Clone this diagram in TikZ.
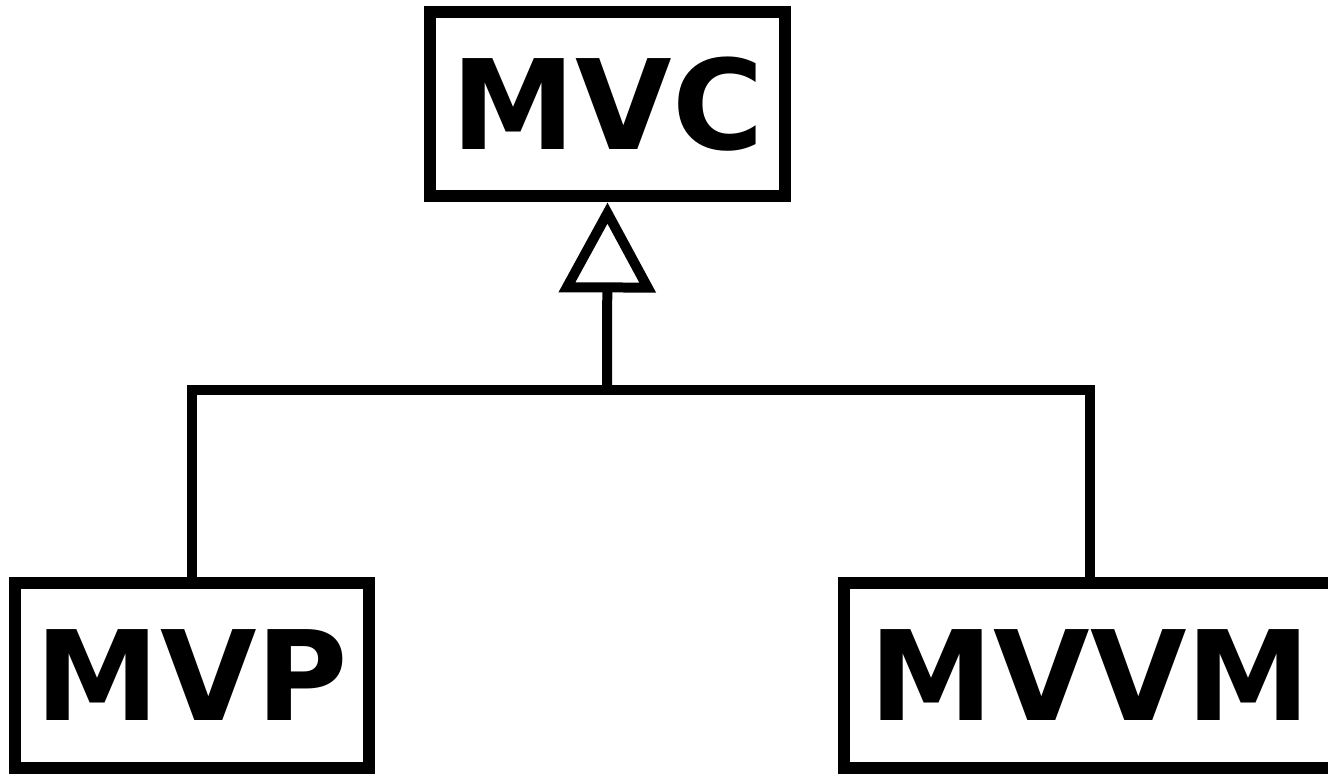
\documentclass[tikz,border=0pt]{standalone}
\usepackage{fontspec}
\setmainfont{DejaVu Sans}
\usetikzlibrary{arrows.meta}

\begin{document}
\begin{tikzpicture}[x=0.02cm,y=-0.02cm,line width=0.2cm,
                    font=\fontsize{71pt}{75pt}\selectfont\bfseries]
  \tikzstyle{design}=[draw=black,inner sep=0pt,line width=0.24cm,
                      minimum height=3.7cm]
  \useasboundingbox (0,0) rectangle (1328,776);

  \node[design,minimum width=7.1cm]  (MVC)  at (607.5,104)  {MVC};
  \node[design,minimum width=7.08cm] (MVP)  at (192,675.5)  {MVP};
  \node[design,minimum width=9.84cm] (MVVM) at (1090,675.5) {MVVM};

  \coordinate (join) at (607,390);

  \draw (MVP.north) |- (join) -| (MVVM.north);
  \draw[-{Triangle[open,length=1.8cm,width=1.9cm]},line join=miter]
       (join) -- (MVC.south);
\end{tikzpicture}
\end{document}
